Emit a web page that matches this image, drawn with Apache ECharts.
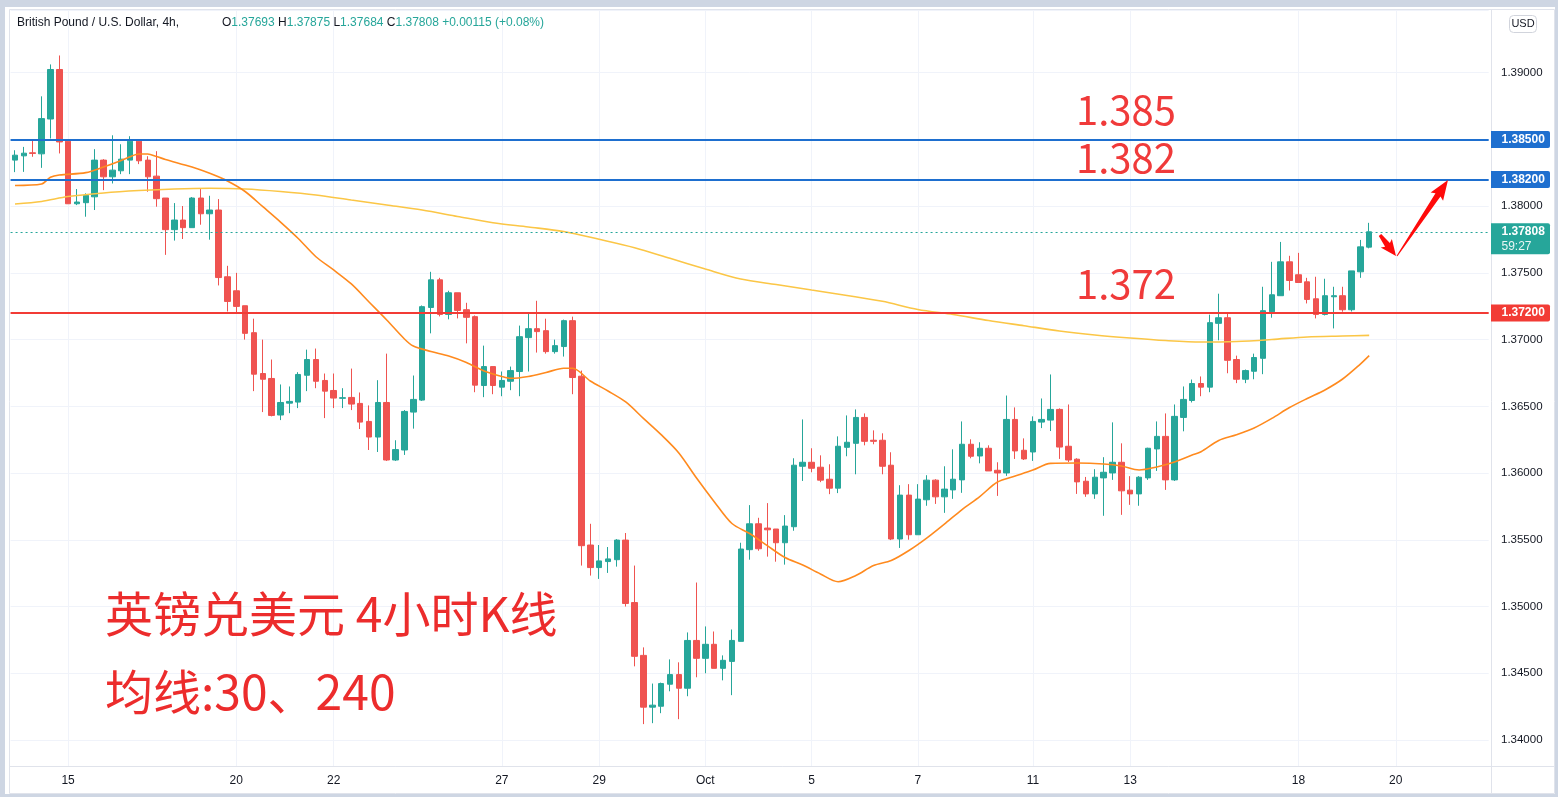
<!DOCTYPE html>
<html><head><meta charset="utf-8">
<script src="https://cdn.jsdelivr.net/npm/echarts@6/dist/echarts.min.js"></script>
<style>
html,body{margin:0;padding:0;background:#ced6e3;width:1558px;height:797px;overflow:hidden}
#bg{position:absolute;left:5px;top:7px;width:1550px;height:787px;background:#fff}
#c{position:absolute;left:0;top:0;width:1558px;height:797px}
</style></head><body><div id="bg"></div><div id="c"></div>
<script>
// ---- data (4h candles, GBP/USD) ----
const opens = [1.38345,1.38377,1.38400,1.38392,1.38653,1.39024,1.38487,1.38018,1.38026,1.38070,
1.38345,1.38220,1.38265,1.38345,1.38487,1.38345,1.38225,1.38061,1.37824,1.37896,
1.37839,1.38061,1.37943,1.37971,1.37471,1.37366,1.37254,1.37052,1.36746,1.36709,
1.36435,1.36524,1.36532,1.36733,1.36851,1.36694,1.36619,1.36560,1.36567,1.36522,
1.36387,1.36270,1.36529,1.36098,1.36173,1.36457,1.36547,1.37241,1.37448,1.37189,
1.37351,1.37224,1.37172,1.36656,1.36798,1.36644,1.36688,1.36761,1.37015,1.37082,
1.37067,1.36910,1.36948,1.37142,1.36726,1.35461,1.35292,1.35337,1.35351,1.35498,
1.35030,1.34634,1.34246,1.34253,1.34418,1.34490,1.34388,1.34746,1.34612,1.34717,
1.34537,1.34589,1.34739,1.35426,1.35620,1.35588,1.35581,1.35478,1.35598,1.36051,
1.36081,1.36044,1.35954,1.35887,1.36193,1.36223,1.36417,1.36246,1.36246,1.36059,
1.35506,1.35835,1.35538,1.35800,1.35947,1.35822,1.35874,1.35949,1.36216,1.36128,
1.36186,1.36021,1.36001,1.36402,1.36171,1.36158,1.36382,1.36397,1.36477,1.36201,
1.36104,1.35939,1.35844,1.35964,1.36001,1.36081,1.35872,1.35844,1.35964,1.36181,
1.36275,1.35949,1.36417,1.36544,1.36671,1.36644,1.37122,1.37164,1.36851,1.36703,
1.36763,1.36860,1.37209,1.37329,1.37583,1.37486,1.37433,1.37306,1.37189,1.37321,
1.37329,1.37224,1.37508,1.37693];
const closes = [1.38382,1.38397,1.38395,1.38656,1.39024,1.38481,1.38018,1.38031,1.38081,1.38345,
1.38220,1.38270,1.38352,1.38487,1.38340,1.38220,1.38056,1.37824,1.37896,1.37839,
1.38061,1.37943,1.37971,1.37465,1.37286,1.37249,1.37047,1.36741,1.36703,1.36432,
1.36529,1.36537,1.36739,1.36851,1.36688,1.36614,1.36562,1.36565,1.36517,1.36382,
1.36270,1.36529,1.36098,1.36176,1.36462,1.36552,1.37247,1.37448,1.37189,1.37351,
1.37219,1.37167,1.36659,1.36798,1.36656,1.36694,1.36768,1.37022,1.37082,1.37060,
1.36910,1.36955,1.37142,1.36716,1.35456,1.35292,1.35342,1.35357,1.35498,1.35023,
1.34627,1.34246,1.34261,1.34423,1.34490,1.34388,1.34746,1.34612,1.34717,1.34537,
1.34597,1.34746,1.35431,1.35620,1.35433,1.35575,1.35478,1.35603,1.36059,1.36081,
1.36036,1.35947,1.35887,1.36201,1.36231,1.36417,1.36238,1.36238,1.36051,1.35506,
1.35835,1.35538,1.35805,1.35947,1.35822,1.35880,1.35954,1.36216,1.36126,1.36186,
1.36016,1.36001,1.36402,1.36166,1.36106,1.36387,1.36402,1.36477,1.36195,1.36098,
1.35934,1.35844,1.35969,1.36006,1.36081,1.35867,1.35844,1.35969,1.36186,1.36275,
1.35949,1.36425,1.36552,1.36671,1.36644,1.37127,1.37164,1.36845,1.36703,1.36768,
1.36866,1.37217,1.37336,1.37583,1.37443,1.37428,1.37301,1.37189,1.37329,1.37329,
1.37224,1.37515,1.37695,1.37808];
const lows = [1.38255,1.38257,1.38370,1.38287,1.38507,1.38395,1.38016,1.38008,1.37921,1.37971,
1.38120,1.38170,1.38240,1.38240,1.38315,1.38108,1.37996,1.37635,1.37742,1.37754,
1.37839,1.37861,1.37749,1.37406,1.37211,1.37202,1.37000,1.36614,1.36457,1.36425,
1.36397,1.36449,1.36487,1.36614,1.36636,1.36412,1.36487,1.36487,1.36472,1.36330,
1.36173,1.36158,1.36091,1.36091,1.36136,1.36333,1.36540,1.37047,1.37174,1.37152,
1.37159,1.36972,1.36606,1.36569,1.36591,1.36576,1.36621,1.36576,1.36761,1.36903,
1.36895,1.36895,1.36873,1.36591,1.35307,1.35232,1.35207,1.35252,1.35299,1.35000,
1.34552,1.34119,1.34126,1.34201,1.34365,1.34156,1.34328,1.34470,1.34500,1.34537,
1.34447,1.34336,1.34739,1.35351,1.35418,1.35374,1.35336,1.35314,1.35568,1.35941,
1.36006,1.35932,1.35842,1.35850,1.36126,1.35991,1.36208,1.36216,1.35991,1.35498,
1.35439,1.35501,1.35538,1.35755,1.35769,1.35702,1.35807,1.35852,1.36111,1.36073,
1.36016,1.35829,1.35979,1.36106,1.36098,1.36091,1.36337,1.36315,1.36106,1.36083,
1.35844,1.35822,1.35807,1.35680,1.35949,1.35687,1.35762,1.35755,1.35949,1.36016,
1.35874,1.35941,1.36313,1.36529,1.36576,1.36606,1.36995,1.36748,1.36674,1.36674,
1.36703,1.36741,1.37164,1.37329,1.37368,1.37428,1.37271,1.37159,1.37181,1.37084,
1.37209,1.37211,1.37463,1.37684];
const highs = [1.38419,1.38444,1.38494,1.38823,1.39062,1.39129,1.38494,1.38128,1.38096,1.38427,
1.38352,1.38531,1.38464,1.38524,1.38490,1.38374,1.38412,1.38061,1.38023,1.38001,
1.38068,1.38128,1.38078,1.38053,1.37553,1.37500,1.37254,1.37157,1.37000,1.36851,
1.36664,1.36649,1.36756,1.36925,1.36933,1.36746,1.36746,1.36636,1.36783,1.36604,
1.36507,1.36696,1.36895,1.36246,1.36472,1.36731,1.37256,1.37508,1.37463,1.37366,
1.37351,1.37276,1.37181,1.36955,1.36798,1.36761,1.36798,1.37105,1.37194,1.37291,
1.37157,1.37000,1.37150,1.37172,1.36768,1.35620,1.35461,1.35446,1.35505,1.35551,
1.35307,1.34694,1.34423,1.34430,1.34604,1.34582,1.34806,1.35180,1.34851,1.34813,
1.34634,1.34828,1.35478,1.35760,1.35665,1.35775,1.35581,1.35685,1.36111,1.36402,
1.36186,1.36133,1.36066,1.36275,1.36432,1.36477,1.36447,1.36320,1.36298,1.36156,
1.35909,1.35917,1.35917,1.35984,1.35954,1.36051,1.36178,1.36387,1.36253,1.36231,
1.36208,1.36081,1.36581,1.36492,1.36260,1.36425,1.36559,1.36739,1.36485,1.36514,
1.36111,1.35971,1.36029,1.36119,1.36380,1.36223,1.35977,1.35977,1.36190,1.36387,
1.36447,1.36514,1.36649,1.36701,1.36724,1.37187,1.37344,1.37194,1.36880,1.36776,
1.36895,1.37396,1.37583,1.37732,1.37628,1.37650,1.37463,1.37471,1.37456,1.37396,
1.37396,1.37515,1.37747,1.37875];

// moving averages: [candle index, value]
const ma30 = [[0,1.38155],[3,1.38166],[4,1.38216],[5,1.38233],[8,1.38251],[10,1.38293],[12,1.38342],[13,1.38371],[14,1.38391],[15,1.38391],[16,1.38372],[17,1.38350],[20,1.38293],[22,1.38246],[24,1.38189],[26,1.38110],[28,1.37996],[30,1.37881],[32,1.37758],[34,1.37621],[36,1.37522],[38,1.37417],[40,1.37282],[42,1.37147],[44,1.37005],[45,1.36952],[47,1.36911],[49,1.36877],[51,1.36829],[53,1.36765],[55,1.36724],[56,1.36710],[58,1.36724],[60,1.36754],[62,1.36785],[63,1.36785],[65,1.36690],[67,1.36615],[69,1.36533],[71,1.36410],[73,1.36288],[75,1.36151],[77,1.35963],[79,1.35786],[81,1.35622],[83,1.35547],[85,1.35456],[87,1.35367],[89,1.35311],[91,1.35244],[93,1.35186],[95,1.35232],[97,1.35307],[99,1.35345],[101,1.35420],[103,1.35513],[105,1.35618],[107,1.35727],[109,1.35824],[111,1.35933],[113,1.35978],[115,1.36023],[117,1.36073],[120,1.36075],[123,1.36068],[125,1.36053],[127,1.36023],[129,1.36046],[131,1.36083],[133,1.36135],[134,1.36160],[136,1.36244],[138,1.36287],[140,1.36338],[142,1.36410],[144,1.36491],[146,1.36559],[148,1.36623],[150,1.36705],[152,1.36817],[153,1.36880]];
const ma240 = [[0,1.38016],[3,1.38035],[6,1.38072],[10,1.38099],[14,1.38117],[18,1.38129],[22,1.38134],[26,1.38129],[30,1.38110],[34,1.38084],[38,1.38046],[42,1.38009],[46,1.37971],[50,1.37923],[54,1.37876],[58,1.37844],[62,1.37810],[66,1.37752],[70,1.37689],[74,1.37609],[78,1.37529],[82,1.37454],[86,1.37413],[90,1.37372],[94,1.37331],[98,1.37287],[102,1.37226],[106,1.37188],[110,1.37143],[114,1.37104],[118,1.37065],[122,1.37035],[126,1.37012],[130,1.36993],[134,1.36982],[138,1.36986],[142,1.37001],[146,1.37020],[150,1.37027],[153,1.37032]];

// time-axis labels (candle slot index -> text)
const tickIdx  = [6,25,36,55,66,78,90,102,115,126,145,156];
const tickText = ['15','20','22','27','29','Oct','5','7','11','13','18','20'];

// horizontal levels
const levelPrices = [1.385, 1.382, 1.372];
const levelColors = ['#1e6fcf', '#1e6fcf', '#f23b35'];
const lastPrice = 1.37808;
const countdown = '59:27';

// annotation texts
const bigLabels = ['1.385', '1.382', '1.372'];
const titleLines = ['英镑兑美元 4小时K线', '均线:30、240'];
const headerName = 'British Pound / U.S. Dollar, 4h,';
const headerO = '1.37693', headerH = '1.37875', headerL = '1.37684', headerC = '1.37808', headerChg = '+0.00115 (+0.08%)';

// ---- chart ----
const UP = '#26a69a', DN = '#ef5350', TXT = '#131722', GRID = '#f0f3fa', BORDER = '#e0e3eb';
const N_SLOTS = 167;
const slots = Array.from({length: N_SLOTS}, (_, i) => 'k' + i);
const tickMap = {};
tickIdx.forEach((k, j) => { tickMap[k] = tickText[j]; });
const candles = opens.map((o, i) => [o, closes[i], lows[i], highs[i]]);

const W = 8.851, L0 = 10.57;
const gridRight = 1558 - (L0 + W * N_SLOTS);
const FONT = '"Liberation Sans", Arial, sans-serif';

const chart = echarts.init(document.getElementById('c'));
chart.setOption({
  animation: false,
  backgroundColor: 'transparent',
  textStyle: {fontFamily: FONT},
  grid: {left: L0, right: gridRight, top: 10, bottom: 31},
  xAxis: {
    type: 'category', data: slots, boundaryGap: true,
    axisLine: {show: false}, axisTick: {show: false},
    axisLabel: {
      interval: (i) => tickMap[i] !== undefined,
      formatter: (v, i) => tickMap[i] || '',
      color: TXT, fontSize: 12, fontFamily: FONT, margin: 9
    },
    splitLine: {show: true, alignWithLabel: true, interval: (i) => tickMap[i] !== undefined,
      lineStyle: {color: GRID, width: 1}}
  },
  yAxis: {
    type: 'value', position: 'right', min: 1.338052, max: 1.394698, splitNumber: 11, offset: 2.3,
    axisLine: {show: false}, axisTick: {show: false},
    axisLabel: {
      showMinLabel: false, showMaxLabel: false, margin: 10, color: TXT, fontSize: 11.5, fontFamily: FONT,
      formatter: (v) => { const r = v / 0.005; return Math.abs(r - Math.round(r)) < 1e-6 ? v.toFixed(5) : ''; }
    },
    splitLine: {lineStyle: {color: GRID, width: 1}}
  },
  series: [
    {
      type: 'candlestick', data: candles, barWidth: 6,
      itemStyle: {color: UP, color0: DN, borderColor: UP, borderColor0: DN, borderWidth: 1},
      markLine: {
        silent: true, precision: 5, symbol: ['none', 'none'], label: {show: false},
        data: levelPrices.map((p, i) => ({yAxis: p, lineStyle: {color: levelColors[i], width: 2, type: 'solid'}}))
          .concat([{yAxis: lastPrice, lineStyle: {color: UP, width: 1.2, type: [2, 3]}}])
      }
    },
    {type: 'line', data: ma240, showSymbol: false, smooth: 0.3, lineStyle: {color: '#fbc646', width: 1.6}, z: 3},
    {type: 'line', data: ma30, showSymbol: false, smooth: 0.3, lineStyle: {color: '#ff8a1e', width: 1.6}, z: 4}
  ]
});

// ---- overlays ----
const yPix = (p) => chart.convertToPixel({yAxisIndex: 0}, p);
const g = [];
// pane borders
g.push({type: 'rect', shape: {x: 9.5, y: 9.5, width: 1545, height: 784}, style: {fill: null, stroke: BORDER, lineWidth: 1}, z: 1, silent: true});
g.push({type: 'line', shape: {x1: 9.5, y1: 766.5, x2: 1555, y2: 766.5}, style: {stroke: BORDER, lineWidth: 1}, z: 1, silent: true});
g.push({type: 'line', shape: {x1: 1491.5, y1: 9.5, x2: 1491.5, y2: 794}, style: {stroke: BORDER, lineWidth: 1}, z: 1, silent: true});
// header
g.push({type: 'text', style: {x: 17, y: 23, text: headerName, fill: TXT, font: '12px ' + FONT, verticalAlign: 'middle'}, z: 50});
g.push({type: 'text', style: {x: 222, y: 23, verticalAlign: 'middle', font: '12px ' + FONT,
  text: '{k|O}{v|' + headerO + '} {k|H}{v|' + headerH + '} {k|L}{v|' + headerL + '} {k|C}{v|' + headerC + '} {v|' + headerChg + '}',
  rich: {k: {fill: TXT, font: '12px ' + FONT}, v: {fill: UP, font: '12px ' + FONT}}}, z: 50});
// USD box
g.push({type: 'rect', shape: {x: 1509.5, y: 15.5, width: 27, height: 17, r: 4}, style: {fill: '#fff', stroke: '#d1d4dc', lineWidth: 1}, z: 50});
g.push({type: 'text', style: {x: 1523, y: 24, text: 'USD', fill: TXT, font: '11px ' + FONT, align: 'center', verticalAlign: 'middle'}, z: 51});
// level boxes on the price axis
levelPrices.forEach((p, i) => {
  const y = yPix(p);
  g.push({type: 'rect', shape: {x: 1491, y: y - 8.5, width: 59, height: 17, r: [0, 2, 2, 0]}, style: {fill: levelColors[i]}, z: 60});
  g.push({type: 'text', style: {x: 1501.5, y: y, text: p.toFixed(5), fill: '#fff', font: 'bold 12px ' + FONT, verticalAlign: 'middle'}, z: 61});
});
{
  const y = yPix(lastPrice);
  g.push({type: 'rect', shape: {x: 1491, y: y - 8.5, width: 59, height: 31, r: [0, 2, 2, 0]}, style: {fill: UP}, z: 60});
  g.push({type: 'text', style: {x: 1501.5, y: y, text: lastPrice.toFixed(5), fill: '#fff', font: 'bold 12px ' + FONT, verticalAlign: 'middle'}, z: 61});
  g.push({type: 'text', style: {x: 1501.5, y: y + 14.5, text: countdown, fill: '#e8f6f4', font: '12px ' + FONT, verticalAlign: 'middle'}, z: 61});
}
// big red level annotations
const RED = '#f03a3a';
const bigY = [yPix(levelPrices[0]) - 30, yPix(levelPrices[1]) - 22, yPix(levelPrices[2]) - 29];
bigLabels.forEach((t, i) => {
  g.push({type: 'text', style: {x: 1076, y: bigY[i], text: t, fill: RED, font: '40px "Noto Sans CJK SC", "Noto Sans", sans-serif', verticalAlign: 'middle'}, z: 40});
});
// chinese title
g.push({type: 'text', style: {x: 105, y: 614, text: titleLines[0], fill: '#ec2c2c', font: '48px "Noto Sans CJK SC", sans-serif', verticalAlign: 'middle'}, z: 40});
g.push({type: 'text', style: {x: 105, y: 692, text: titleLines[1], fill: '#ec2c2c', font: '48px "Noto Sans CJK SC", sans-serif', verticalAlign: 'middle'}, z: 40});
// arrows
function arrow(x1, y1, x2, y2, w1, w2, hl, hw) {
  const dx = x2 - x1, dy = y2 - y1, L = Math.hypot(dx, dy), ux = dx / L, uy = dy / L, px = -uy, py = ux;
  const bx = x2 - ux * hl, by = y2 - uy * hl;
  return [[x1 + px * w1 / 2, y1 + py * w1 / 2], [bx + px * w2 / 2, by + py * w2 / 2], [bx - ux * 2 + px * hw / 2, by - uy * 2 + py * hw / 2],
          [x2, y2], [bx - ux * 2 - px * hw / 2, by - uy * 2 - py * hw / 2], [bx - px * w2 / 2, by - py * w2 / 2], [x1 - px * w1 / 2, y1 - py * w1 / 2]];
}
g.push({type: 'polygon', shape: {points: arrow(1380, 235, 1396, 256, 3, 6, 14, 14)}, style: {fill: '#ff0a0a'}, z: 45});
g.push({type: 'polygon', shape: {points: arrow(1397, 256, 1448, 180, 1, 6, 18, 15)}, style: {fill: '#ff0a0a'}, z: 45});

chart.setOption({graphic: g});
</script>
</body></html>
